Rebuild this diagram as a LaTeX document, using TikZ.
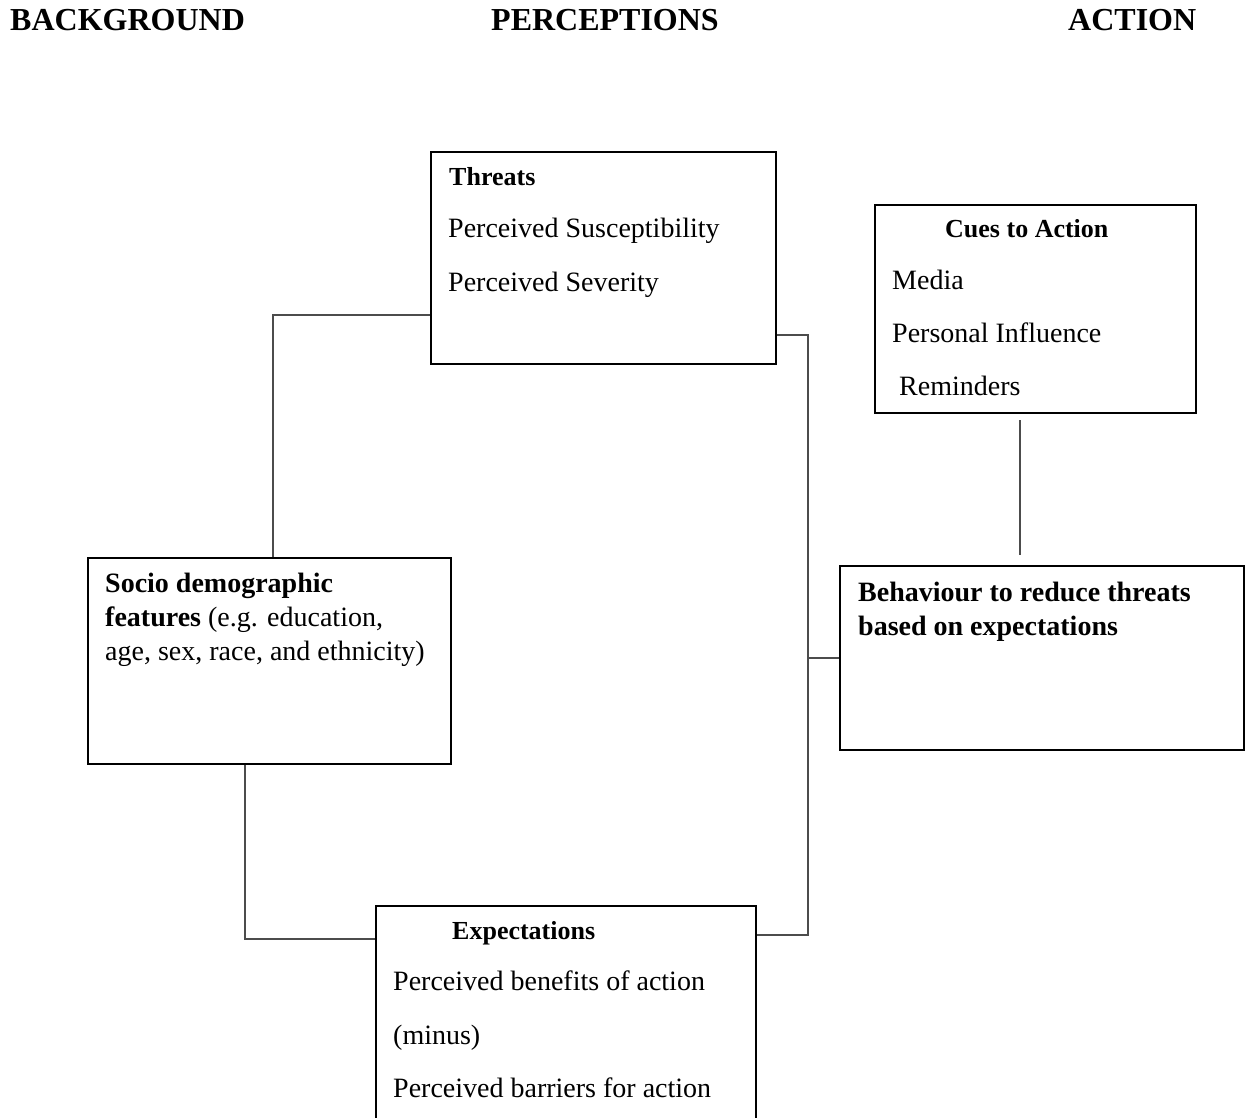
\documentclass[tikz,border=0pt]{standalone}
\usepackage{fontspec}
\setmainfont{Liberation Serif}
\begin{document}
\begin{tikzpicture}[x=1pt,y=-1pt,
  box/.style={draw=black,line width=1.6pt,rectangle,inner sep=0pt,anchor=north west},
  conn/.style={draw=black!70,line width=1.4pt},
  txt/.style={inner sep=0pt,anchor=base west,font=\fontsize{28}{34}\selectfont},
  ttl/.style={inner sep=0pt,anchor=base west,font=\fontsize{26}{30}\selectfont\bfseries},
  head/.style={inner sep=0pt,anchor=base west,font=\fontsize{32}{36}\selectfont\bfseries}]
\useasboundingbox (0,0) rectangle (1248,1118);
% headings
\node[head] (h1) at (10,31) {BACKGROUND};
\node[head] (h2) at (491,31) {PERCEPTIONS};
\node[head] (h3) at (1068,31) {ACTION};
% boxes
\node[box,minimum width=345pt,minimum height=212pt] (threats) at (430,151) {};
\node[box,minimum width=321pt,minimum height=208pt] (cues) at (874,204) {};
\node[box,minimum width=363pt,minimum height=206pt] (socio) at (87,557) {};
\node[box,minimum width=404pt,minimum height=184pt] (beh) at (839,565) {};
\node[box,minimum width=380pt,minimum height=240pt] (expect) at (375,905) {};
% texts
\node[ttl] (t1) at (449,186) {Threats};
\node[txt] (t2) at (448,238) {Perceived Susceptibility};
\node[txt] (t3) at (448,291) {Perceived Severity};
\node[ttl] (c0) at (945,238) {Cues to Action};
\node[txt] (c1) at (892,289) {Media};
\node[txt] (c2) at (892,342) {Personal Influence};
\node[txt] (c3) at (899,395) {Reminders};
\node[txt] (s1) at (105,592) {\bfseries Socio demographic};
\node[txt] (s2) at (105,626) {\bfseries features\mdseries{} (e.g. education,};
\node[txt] (s3) at (105,660) {age, sex, race, and ethnicity)};
\node[txt] (b1) at (858,601) {\bfseries Behaviour to reduce threats};
\node[txt] (b2) at (858,635) {\bfseries based on expectations};
\node[ttl] (e0) at (452,939) {Expectations};
\node[txt] (e1) at (393,990) {Perceived benefits of action};
\node[txt] (e2) at (393,1044) {(minus)};
\node[txt] (e3) at (393,1097) {Perceived barriers for action};
% connectors
\coordinate (ta) at ([yshift=-164pt]threats.north west);
\coordinate (sa) at ([xshift=186pt]socio.north west);
\draw[conn] (ta) -| (sa);
\coordinate (tb) at ([yshift=-184pt]threats.north east);
\coordinate (eb) at ([yshift=-30pt]expect.north east);
\coordinate (vx) at (808,335);
\draw[conn] (tb) -- (vx) |- (eb);
\draw[conn] (beh.west) -- (vx |- beh.west);
\coordinate (sb) at ([xshift=158pt]socio.south west);
\coordinate (ea) at ([yshift=-34pt]expect.north west);
\draw[conn] (sb) |- (ea);
\coordinate (cu1) at (1020,420);
\coordinate (cu2) at (1020,555);
\draw[conn] (cu1) -- (cu2);
\end{tikzpicture}
\end{document}
